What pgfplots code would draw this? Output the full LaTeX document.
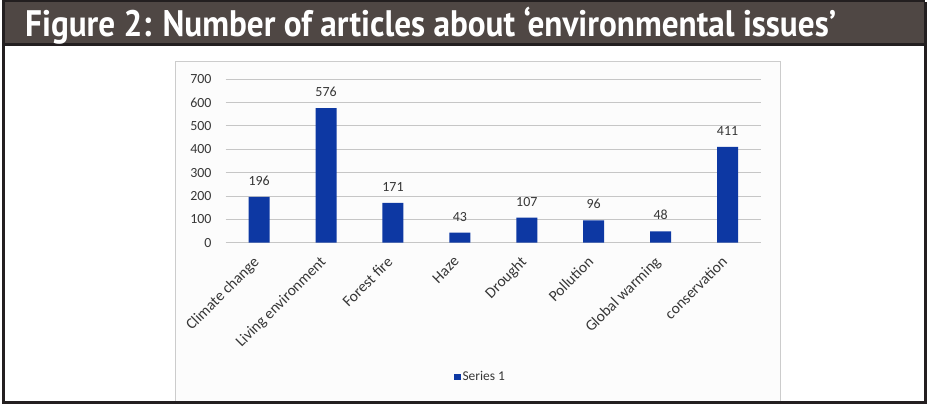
\documentclass[border=0pt]{standalone}
\usepackage{pgfplots}
\pgfplotsset{compat=1.18}
\usepackage{fontspec}
\setmainfont{Carlito}
\newfontfamily\headfont{PT Sans}
\definecolor{hdr}{RGB}{79,71,68}
\definecolor{frm}{RGB}{35,31,32}
\definecolor{barc}{RGB}{13,56,163}
\definecolor{txt}{RGB}{55,55,55}
\begin{document}
\begin{tikzpicture}[x=1bp,y=1bp]
\useasboundingbox (0,0) rectangle (927,404);
\fill[white] (0,0) rectangle (927,404);
% inner chart frame
\draw[gray!40, line width=1bp, fill=black!1] (175,343) rectangle (780,1);
% header
\fill[hdr] (2,402) rectangle (925,359);
\draw[frm, line width=2bp] (2,402.5) -- (925,402.5);
\draw[frm, line width=2.5bp] (2,359.5) -- (925,359.5);
\draw[frm, line width=3bp] (3.5,402) -- (3.5,1.5) -- (925,1.5) -- (925,402);
\node[anchor=base west, text=white, inner sep=0] at (25,368)
  {\resizebox{811bp}{\height}{\headfont\bfseries\fontsize{37}{37}\selectfont Figure 2: Number of articles about ‘environmental issues’}};
\begin{axis}[
  at={(225.7bp,161.3bp)}, anchor=south west,
  scale only axis, width=535.3bp, height=163.4bp,
  xmin=-0.5, xmax=7.5, ymin=0, ymax=700,
  ytick={0,100,...,700},
  /pgf/number format/assume math mode=true,
  ymajorgrids, grid style={draw=gray!45, line width=1bp},
  axis line style={draw=none},
  major tick length=0pt,
  xtick={0,...,7},
  xticklabels={Climate change, Living environment, Forest fire, Haze, Drought, Pollution, Global warming, conservation},
  xticklabel style={xshift=-7bp, yshift=-12.5bp, rotate=45, anchor=north east, inner sep=0pt, font=\fontsize{15.5}{15.5}\selectfont, text=txt},
  yticklabel style={anchor=east, inner sep=0pt, xshift=-14bp, font=\fontsize{14}{14}\selectfont, text=txt},
  ybar, bar width=21bp,
  nodes near coords,
  every node near coord/.append style={font=\fontsize{14}{14}\selectfont, text=txt, yshift=8bp},
  legend style={at={(0.476,-0.822)}, anchor=center, draw=none, fill=none, font=\fontsize{13.5}{13.5}\selectfont, text=txt},
  legend image code/.code={\fill[barc] (0bp,-3.2bp) rectangle (6.5bp,3.2bp);},
]
\addplot[fill=barc, draw=none] coordinates {(0,196) (1,576) (2,171) (3,43) (4,107) (5,96) (6,48) (7,411)};
\addlegendentry{Series 1}
\end{axis}
\end{tikzpicture}
\end{document}
